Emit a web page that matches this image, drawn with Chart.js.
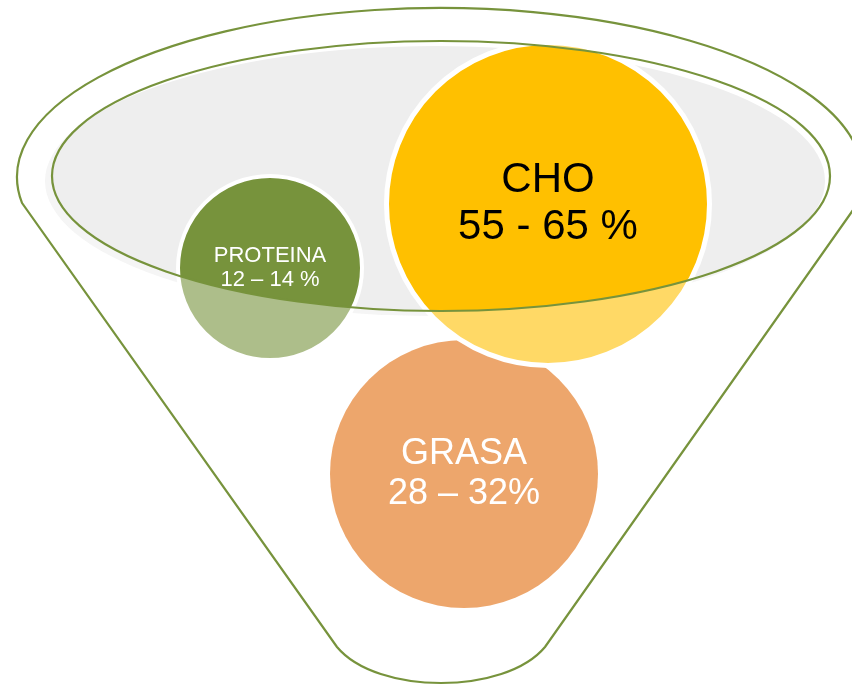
<!DOCTYPE html>
<html>
<head>
<meta charset="utf-8">
<script src="https://cdn.jsdelivr.net/npm/chart.js@4/dist/chart.umd.min.js"></script>
<style>
  body { margin: 0; background: #fff; }
  canvas { display: block; }
</style>
</head>
<body>
<canvas id="funnel" width="852" height="685"></canvas>
<script>
// macronutrient shares, drawn as bubbles inside a funnel
const nutrients = ["GRASA", "PROTEINA", "CHO"];
const ranges = ["28 – 32%", "12 – 14 %", "55 - 65 %"];
const bubbleX = [464, 270, 548];
const bubbleY = [474, 268, 204];
const bubbleR = [134, 92, 161.5];

const fillColors = ["#e16b0a", "#77933c", "#ffc000"];
const textColors = ["#ffffff", "#ffffff", "#000000"];
const fontSizes = [36, 22, 42];
const lineGreen = "#77933c";

// rim of the funnel (inner ellipse) and grey surface, in axis units
const rim = { cx: 441, cy: 176, rx: 389, ry: 135 };
const surface = { cx: 435, cy: 181, rx: 390, ry: 135 };
const outerRim = { cx: 440, cy: 177, rx: 423, ry: 169 };

const funnelPlugin = {
  id: "funnel",
  beforeDatasetsDraw(chart) {
    const ctx = chart.ctx;
    const xs = chart.scales.x;
    const ys = chart.scales.y;
    ctx.save();
    ctx.beginPath();
    ctx.ellipse(
      xs.getPixelForValue(surface.cx),
      ys.getPixelForValue(surface.cy),
      surface.rx, surface.ry, 0, 0, Math.PI * 2
    );
    ctx.fillStyle = "#eeeeee";
    ctx.fill();
    ctx.restore();
  },
  afterDatasetsDraw(chart) {
    const ctx = chart.ctx;
    const xs = chart.scales.x;
    const ys = chart.scales.y;
    const px = (v) => xs.getPixelForValue(v);
    const py = (v) => ys.getPixelForValue(v);

    // everything outside the rim looks washed out
    ctx.save();
    ctx.beginPath();
    ctx.rect(0, 0, chart.width, chart.height);
    ctx.ellipse(px(rim.cx), py(rim.cy), rim.rx, rim.ry, 0, 0, Math.PI * 2);
    ctx.fillStyle = "rgba(255,255,255,0.4)";
    ctx.fill("evenodd");
    ctx.restore();

    // labels
    const meta = chart.getDatasetMeta(0);
    meta.data.forEach((pt, i) => {
      const size = fontSizes[i];
      const lh = size * 1.1;
      ctx.save();
      ctx.font = size + "px 'Liberation Sans', Arial, sans-serif";
      ctx.fillStyle = textColors[i];
      ctx.textAlign = "center";
      ctx.textBaseline = "middle";
      ctx.fillText(nutrients[i], pt.x, pt.y - lh / 2);
      ctx.fillText(ranges[i], pt.x, pt.y + lh / 2);
      ctx.restore();
    });

    // rim outline
    ctx.save();
    ctx.strokeStyle = lineGreen;
    ctx.lineWidth = 2.2;
    ctx.beginPath();
    ctx.ellipse(px(rim.cx), py(rim.cy), rim.rx, rim.ry, 0, 0, Math.PI * 2);
    ctx.stroke();

    // funnel body
    const t0 = Math.PI - 0.155;
    const t1 = Math.PI * 2 + 0.155;
    ctx.beginPath();
    ctx.ellipse(px(outerRim.cx), py(outerRim.cy), outerRim.rx, outerRim.ry, 0, t0, t1);
    ctx.lineTo(px(545), py(647));
    ctx.bezierCurveTo(px(505), py(695), px(377), py(695), px(337), py(647));
    ctx.closePath();
    ctx.stroke();
    ctx.restore();
  }
};

new Chart(document.getElementById("funnel"), {
  type: "bubble",
  data: {
    datasets: [
      {
        label: "Macronutrientes",
        data: nutrients.map((n, i) => ({ x: bubbleX[i], y: bubbleY[i], r: bubbleR[i] })),
        backgroundColor: fillColors,
        borderColor: "#ffffff",
        borderWidth: [0, 4, 5],
        hoverRadius: 0,
        hoverBorderWidth: [0, 4, 5],
        clip: false,
      },
    ],
  },
  options: {
    responsive: false,
    animation: false,
    events: [],
    layout: { padding: 0, autoPadding: false },
    plugins: {
      legend: { display: false },
      tooltip: { enabled: false },
    },
    scales: {
      x: { type: "linear", min: 0, max: 852, display: false },
      y: { type: "linear", min: 0, max: 685, reverse: true, display: false },
    },
  },
  plugins: [funnelPlugin],
});
</script>
</body>
</html>
